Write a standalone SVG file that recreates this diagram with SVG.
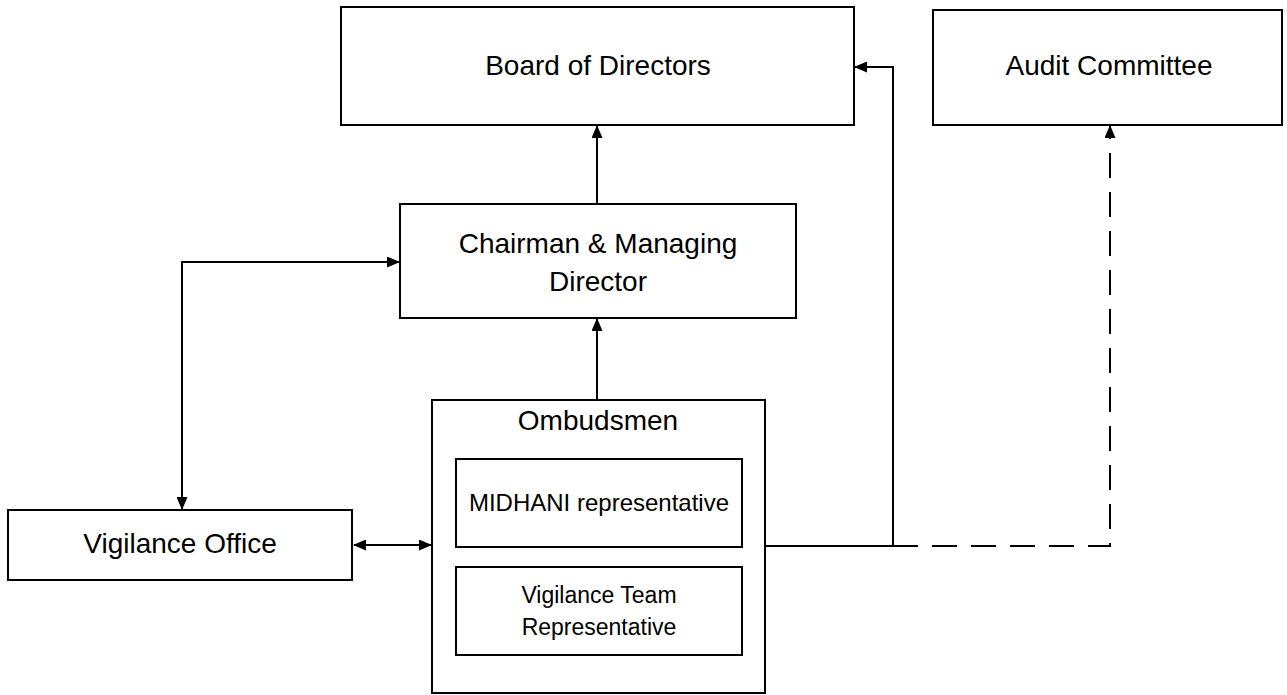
<svg xmlns="http://www.w3.org/2000/svg" width="1287" height="695" viewBox="0 0 1287 695">
<defs>
<style>
.box{fill:#fff;stroke:#000;stroke-width:2}
.t{font-family:"Liberation Sans",Arial,sans-serif;font-size:28px;fill:#000;text-anchor:middle}
.s{font-size:24px}
.s2{font-size:23px}
.c{fill:none;stroke:#000;stroke-width:2}
.d{stroke-dasharray:25,14}
</style>
<marker id="ah" markerWidth="13" markerHeight="11" refX="12" refY="5.5" orient="auto-start-reverse" markerUnits="userSpaceOnUse">
<path d="M0,0 L13,5.5 L0,11 Z" fill="#000"/>
</marker>
</defs>
<rect width="1287" height="695" fill="#fff"/>
<g id="connectors">
<line class="c" x1="597" y1="204" x2="597" y2="126" marker-end="url(#ah)"/>
<line class="c" x1="597" y1="400" x2="597" y2="319" marker-end="url(#ah)"/>
<polyline class="c" points="182,509 182,262 399,262" marker-start="url(#ah)" marker-end="url(#ah)"/>
<line class="c" x1="354" y1="545" x2="431" y2="545" marker-start="url(#ah)" marker-end="url(#ah)"/>
<polyline class="c" points="765,546 893,546 893,67 855,67" marker-end="url(#ah)"/>
<polyline class="c d" points="893,546 1110,546 1110,126" marker-end="url(#ah)"/>
</g>
<g id="board">
<rect class="box" x="341" y="7" width="513" height="118"/>
<text class="t" x="598" y="75">Board of Directors</text>
</g>
<g id="audit">
<rect class="box" x="933" y="10" width="349" height="115"/>
<text class="t" x="1109" y="75">Audit Committee</text>
</g>
<g id="cmd">
<rect class="box" x="400" y="204" width="396" height="114"/>
<text class="t" x="598" y="253">Chairman &amp; Managing</text>
<text class="t" x="598" y="291">Director</text>
</g>
<g id="ombudsmen">
<rect class="box" x="432" y="400" width="333" height="293"/>
<text class="t" x="598" y="430">Ombudsmen</text>
</g>
<g id="midhani">
<rect class="box" x="456" y="459" width="286" height="88"/>
<text class="t s" x="599" y="511">MIDHANI representative</text>
</g>
<g id="vigteam">
<rect class="box" x="456" y="567" width="286" height="88"/>
<text class="t s2" x="599" y="603">Vigilance Team</text>
<text class="t s2" x="599" y="635">Representative</text>
</g>
<g id="vigoffice">
<rect class="box" x="8" y="510" width="344" height="70"/>
<text class="t" x="180" y="553">Vigilance Office</text>
</g>
</svg>
